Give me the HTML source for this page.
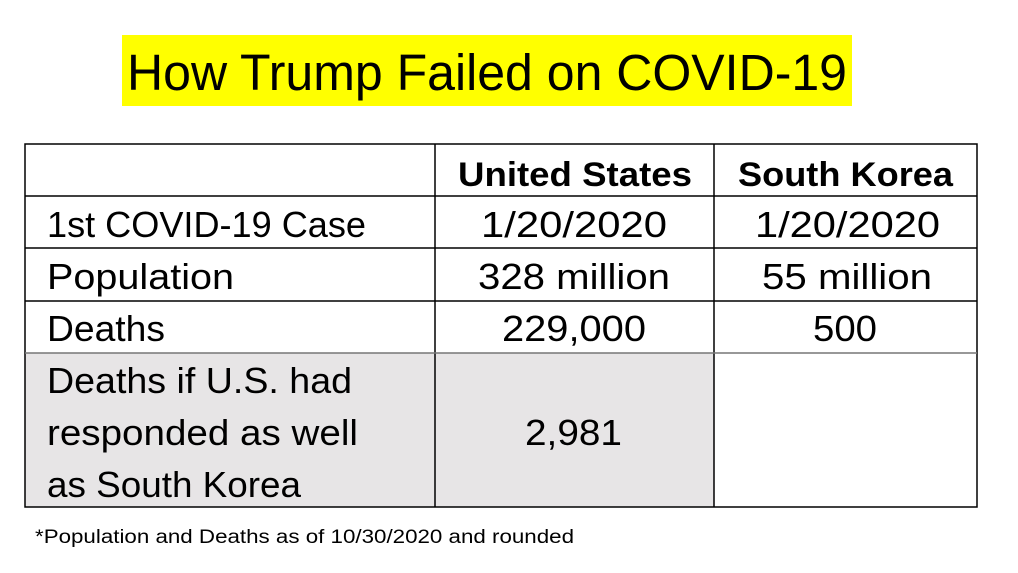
<!DOCTYPE html>
<html><head><meta charset="utf-8"><style>
html,body{margin:0;padding:0;background:#fff;width:1018px;height:573px;overflow:hidden}
svg text{font-family:"Liberation Sans",sans-serif;fill:#000}
</style></head><body>
<svg width="1018" height="573" viewBox="0 0 1018 573">
<rect x="122" y="35" width="730" height="71" fill="#ffff00"/>
<text x="127" y="90" font-size="51" textLength="720" lengthAdjust="spacingAndGlyphs">How Trump Failed on COVID-19</text>
<g>
<rect x="25" y="353" width="689" height="154" fill="#e7e5e6"/>
<g stroke="#000" stroke-width="1.5" fill="none">
<rect x="25" y="144" width="952" height="363"/>
<line x1="435" y1="144" x2="435" y2="507"/>
<line x1="714" y1="144" x2="714" y2="507"/>
<line x1="25" y1="196" x2="977" y2="196"/>
<line x1="25" y1="248" x2="977" y2="248"/>
<line x1="25" y1="301" x2="977" y2="301"/>
<line x1="25" y1="353" x2="977" y2="353" stroke="#777"/>
</g>
<text x="458" y="186" font-size="34" font-weight="bold" textLength="234" lengthAdjust="spacingAndGlyphs">United States</text>
<text x="738" y="186" font-size="34" font-weight="bold" textLength="215" lengthAdjust="spacingAndGlyphs">South Korea</text>
<text x="47" y="237" font-size="36" textLength="319" lengthAdjust="spacingAndGlyphs">1st COVID-19 Case</text>
<text x="481" y="237" font-size="36" textLength="186" lengthAdjust="spacingAndGlyphs">1/20/2020</text>
<text x="755" y="237" font-size="36" textLength="185" lengthAdjust="spacingAndGlyphs">1/20/2020</text>
<text x="47" y="289" font-size="36" textLength="187" lengthAdjust="spacingAndGlyphs">Population</text>
<text x="478" y="289" font-size="36" textLength="192" lengthAdjust="spacingAndGlyphs">328 million</text>
<text x="762" y="289" font-size="36" textLength="170" lengthAdjust="spacingAndGlyphs">55 million</text>
<text x="47" y="341" font-size="36" textLength="118" lengthAdjust="spacingAndGlyphs">Deaths</text>
<text x="502" y="341" font-size="36" textLength="144" lengthAdjust="spacingAndGlyphs">229,000</text>
<text x="813" y="341" font-size="36" textLength="64" lengthAdjust="spacingAndGlyphs">500</text>
<g>
<text x="47" y="393" font-size="36" textLength="305" lengthAdjust="spacingAndGlyphs">Deaths if U.S. had</text>
<text x="47" y="445" font-size="36" textLength="311" lengthAdjust="spacingAndGlyphs">responded as well</text>
<text x="47" y="497" font-size="36" textLength="254" lengthAdjust="spacingAndGlyphs">as South Korea</text>
</g>
<text x="525" y="445" font-size="36" textLength="97" lengthAdjust="spacingAndGlyphs">2,981</text>
</g>
<text x="35" y="543" font-size="19" textLength="539" lengthAdjust="spacingAndGlyphs">*Population and Deaths as of 10/30/2020 and rounded</text>
</svg>
</body></html>
